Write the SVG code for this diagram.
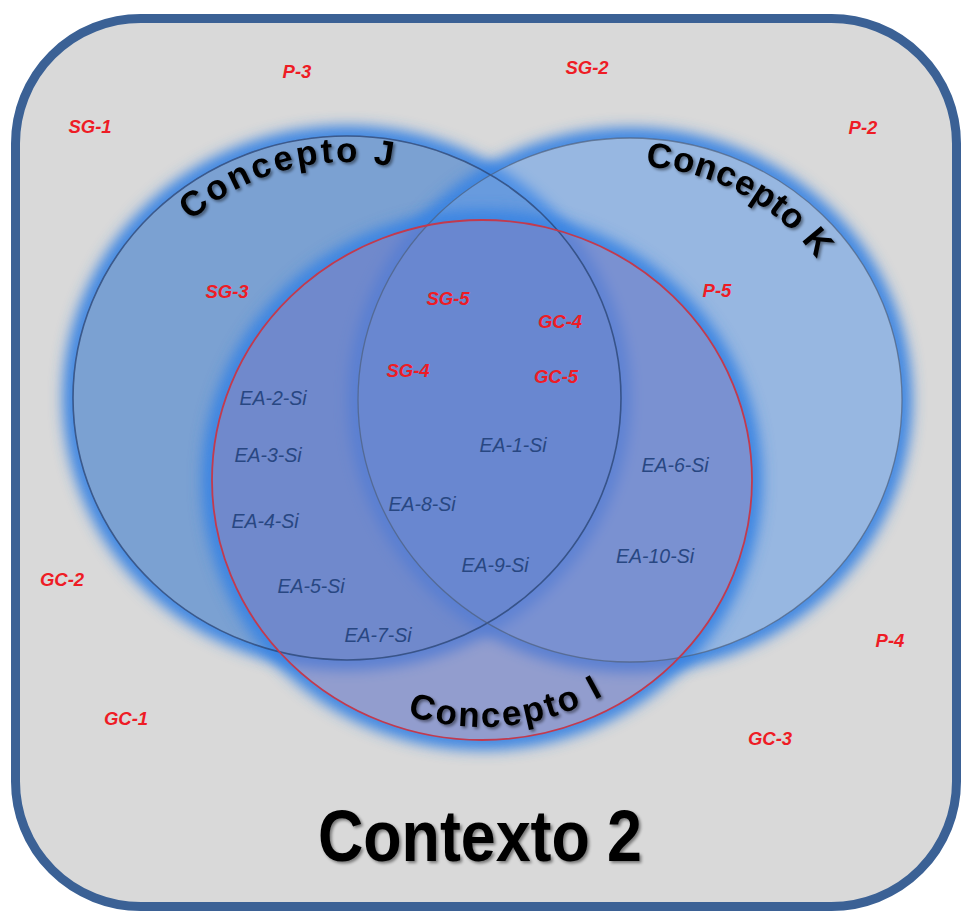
<svg xmlns="http://www.w3.org/2000/svg" width="962" height="914" viewBox="0 0 962 914">
  <style>
    .lbl-red { font-family: "Liberation Sans", Arial, sans-serif; font-weight: bold; font-style: italic; font-size: 18.5px; fill: #ee1c25; text-anchor: middle; }
    .lbl-ea { font-family: "Liberation Sans", Arial, sans-serif; font-style: italic; font-size: 19.5px; fill: #284782; text-anchor: middle; }
    .concept { font-family: "Liberation Sans", Arial, sans-serif; font-weight: bold; font-size: 35px; fill: #000; }
    .title { font-family: "Liberation Sans", Arial, sans-serif; font-weight: bold; font-size: 72px; fill: #000; text-anchor: middle; }
    .glow { fill: none; stroke: #3a84e2; stroke-width: 20; }
  </style>
  <defs>
    <filter id="soft" x="-20%" y="-20%" width="140%" height="140%">
      <feGaussianBlur stdDeviation="7"/>
    </filter>
    <filter id="txtShadow" x="-10%" y="-10%" width="120%" height="130%">
      <feDropShadow dx="2" dy="2" stdDeviation="1.5" flood-color="#000" flood-opacity="0.45"/>
    </filter>
    <!-- outside-only masks so each glow stays outside its own shape -->
    <mask id="outJ" maskUnits="userSpaceOnUse" x="0" y="0" width="962" height="914">
      <rect width="962" height="914" fill="#fff"/>
      <ellipse cx="347" cy="398" rx="274" ry="262" fill="#000"/>
    </mask>
    <mask id="outK" maskUnits="userSpaceOnUse" x="0" y="0" width="962" height="914">
      <rect width="962" height="914" fill="#fff"/>
      <ellipse cx="630" cy="400" rx="272" ry="262" fill="#000"/>
    </mask>
    <mask id="outI" maskUnits="userSpaceOnUse" x="0" y="0" width="962" height="914">
      <rect width="962" height="914" fill="#fff"/>
      <ellipse cx="482" cy="480" rx="270" ry="260" fill="#000"/>
    </mask>
    <path id="arcJ" d="M 111,398 A 236,236 0 0 1 583,398" fill="none"/>
    <path id="arcK" d="M 396,400 A 234,234 0 0 1 864,400" fill="none"/>
    <path id="arcI" d="M 235,480 A 247,247 0 0 0 729,480" fill="none"/>
  </defs>

  <!-- context frame -->
  <g id="contexto">
    <rect x="15.5" y="18.5" width="941" height="888" rx="125" ry="125" fill="#d9d9d9" stroke="#3b6195" stroke-width="9"/>
  </g>

  <!-- concept J -->
  <g id="concepto-j">
    <g mask="url(#outJ)"><ellipse class="glow" cx="347" cy="398" rx="274" ry="262" filter="url(#soft)"/></g>
    <ellipse cx="347" cy="398" rx="274" ry="262" fill="#7ba1d2"/>
  </g>

  <!-- concept K -->
  <g id="concepto-k">
    <g mask="url(#outK)"><ellipse class="glow" cx="630" cy="400" rx="272" ry="262" filter="url(#soft)"/></g>
    <ellipse cx="630" cy="400" rx="272" ry="262" fill="#5595e9" fill-opacity="0.5"/>
  </g>

  <!-- concept I -->
  <g id="concepto-i">
    <g mask="url(#outI)"><ellipse class="glow" cx="482" cy="480" rx="270" ry="260" filter="url(#soft)"/></g>
    <ellipse cx="482" cy="480" rx="270" ry="260" fill="#6a7cc8" fill-opacity="0.64"/>
  </g>

  <!-- outlines -->
  <g id="outlines" fill="none">
    <ellipse cx="347" cy="398" rx="274" ry="262" stroke="#2a4677" stroke-width="1.6" stroke-opacity="0.8"/>
    <ellipse cx="630" cy="400" rx="272" ry="262" stroke="#4d5f7c" stroke-width="1.3" stroke-opacity="0.7"/>
    <ellipse cx="482" cy="480" rx="270" ry="260" stroke="#c23a4e" stroke-width="1.8"/>
  </g>

  <!-- concept titles -->
  <g id="concept-titles" filter="url(#txtShadow)">
    <text class="concept" letter-spacing="2.8"><textPath href="#arcJ" startOffset="200">Concepto J</textPath></text>
    <text class="concept" letter-spacing="0.5"><textPath href="#arcK" startOffset="383">Concepto K</textPath></text>
    <text class="concept" letter-spacing="2.4"><textPath href="#arcI" startOffset="312">Concepto I</textPath></text>
  </g>

  <!-- element labels -->
  <g id="labels-red">
    <text class="lbl-red" x="90" y="133">SG-1</text>
    <text class="lbl-red" x="297" y="78">P-3</text>
    <text class="lbl-red" x="587" y="74">SG-2</text>
    <text class="lbl-red" x="863" y="134">P-2</text>
    <text class="lbl-red" x="227" y="298">SG-3</text>
    <text class="lbl-red" x="448" y="305">SG-5</text>
    <text class="lbl-red" x="560" y="328">GC-4</text>
    <text class="lbl-red" x="717" y="297">P-5</text>
    <text class="lbl-red" x="408" y="377">SG-4</text>
    <text class="lbl-red" x="556" y="383">GC-5</text>
    <text class="lbl-red" x="62" y="586">GC-2</text>
    <text class="lbl-red" x="890" y="647">P-4</text>
    <text class="lbl-red" x="126" y="725">GC-1</text>
    <text class="lbl-red" x="770" y="745">GC-3</text>
  </g>
  <g id="labels-ea">
    <text class="lbl-ea" x="273" y="405">EA-2-Si</text>
    <text class="lbl-ea" x="268" y="462">EA-3-Si</text>
    <text class="lbl-ea" x="265" y="528">EA-4-Si</text>
    <text class="lbl-ea" x="311" y="593">EA-5-Si</text>
    <text class="lbl-ea" x="378" y="642">EA-7-Si</text>
    <text class="lbl-ea" x="422" y="511">EA-8-Si</text>
    <text class="lbl-ea" x="513" y="452">EA-1-Si</text>
    <text class="lbl-ea" x="495" y="572">EA-9-Si</text>
    <text class="lbl-ea" x="675" y="472">EA-6-Si</text>
    <text class="lbl-ea" x="655" y="563">EA-10-Si</text>
  </g>

  <!-- context title -->
  <g id="titulo" filter="url(#txtShadow)">
    <text class="title" x="480" y="861" textLength="324" lengthAdjust="spacingAndGlyphs">Contexto 2</text>
  </g>
</svg>
